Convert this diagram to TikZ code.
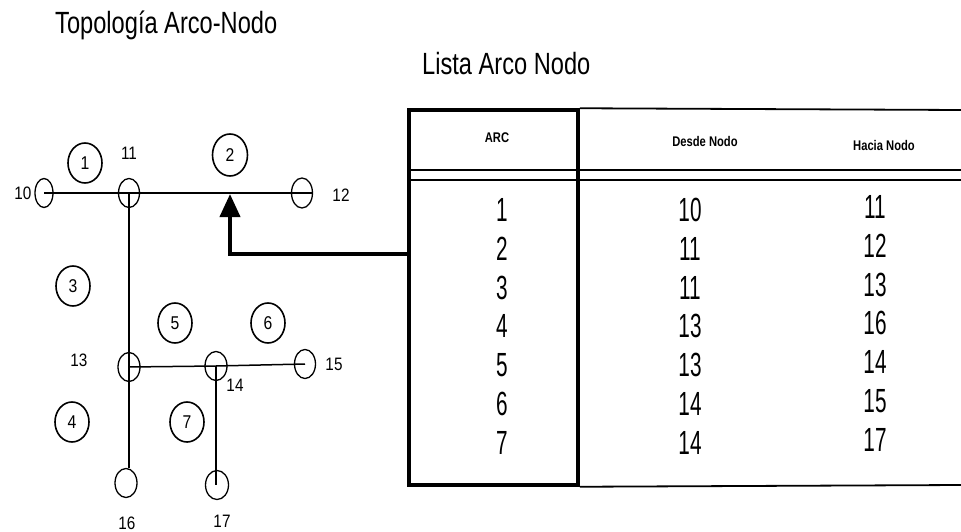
\documentclass[tikz,border=0pt]{standalone}
\usepackage{fontspec}
\setmainfont{Liberation Sans}
\newfontfamily\titlefont[FakeStretch=0.77]{Liberation Sans}
\newfontfamily\numfont[FakeStretch=0.62]{Liberation Sans}
\newfontfamily\headfont[FakeStretch=0.8]{Liberation Sans Bold}
\newfontfamily\lblfont[FakeStretch=0.85]{Liberation Sans}
\usetikzlibrary{shapes.geometric,arrows.meta}
\tikzset{
  nodeell/.style={ellipse, draw, line width=1.3pt, inner sep=0pt, minimum width=20pt, minimum height=29pt},
  arcell/.style={ellipse, draw, line width=1.6pt, inner sep=0pt, minimum width=34pt, minimum height=40pt, font=\lblfont\fontsize{18.5}{18.5}\selectfont},
  lbl/.style={inner sep=0pt, font=\lblfont\fontsize{18}{18}\selectfont},
  graphline/.style={line width=1.5pt},
  bigarrow/.style={line width=4pt, -{Triangle[length=23pt,width=20pt]}},
  tabnum/.style={inner sep=0pt, font=\numfont\fontsize{33.5}{33.5}\selectfont},
  headtxt/.style={inner sep=0pt, font=\headfont\fontsize{14}{14}\selectfont},
  titletxt/.style={inner sep=0pt, anchor=base west, font=\titlefont\fontsize{30.7}{30.7}\selectfont},
  thickbox/.style={draw, line width=3.5pt},
  thinline/.style={line width=1.8pt}
}
\begin{document}
\begin{tikzpicture}[x=1pt,y=-1pt]
\useasboundingbox (0,0) rectangle (961,532);

% titles
\node[titletxt] (title) at (55,34) {Topología Arco-Nodo};
\node[titletxt] (lista) at (422,75) {Lista Arco Nodo};

% graph nodes
\node[nodeell, minimum width=18pt] (n10) at (44,193) {};
\node[nodeell, minimum width=21pt] (n11) at (129,193) {};
\node[nodeell, minimum width=21pt, minimum height=30pt] (n12) at (302,193) {};
\node[nodeell, minimum width=22pt] (n13) at (129,367) {};
\node[nodeell, minimum width=22pt] (n14) at (216,366) {};
\node[nodeell, minimum width=21pt] (n15) at (305,364) {};
\node[nodeell, minimum width=22pt] (n16) at (126,483) {};
\node[nodeell, minimum width=23pt] (n17) at (217,485) {};

% node labels
\node[lbl] (l10) at (23,193) {10};
\node[lbl] (l11) at (129,153) {11};
\node[lbl] (l12) at (341,195) {12};
\node[lbl] (l13) at (79,360) {13};
\node[lbl] (l14) at (235,385) {14};
\node[lbl] (l15) at (334,364) {15};
\node[lbl] (l16) at (127,523) {16};
\node[lbl] (l17) at (222,521) {17};

% arc circles
\node[arcell] (c1) at (85,163) {1};
\node[arcell, minimum width=35pt, minimum height=42pt] (c2) at (230,155) {2};
\node[arcell] (c3) at (73,286) {3};
\node[arcell] (c4) at (72,422) {4};
\node[arcell] (c5) at (175,323) {5};
\node[arcell] (c6) at (268,323) {6};
\node[arcell] (c7) at (187,422) {7};

% graph lines
\draw[graphline] (n10.center) -- (n11.center) -- (n12.east);
\draw[graphline] (n11.center) -- (n13.center);
\draw[graphline] (n13.center) -- (n14.center) -- (n15.center);
\draw[graphline] (n13.center) -- (n13.center |- n16.north);
\draw[graphline] (n14.center) -- (n14.center |- n17.center);

% table
\node[thickbox, minimum width=169pt, minimum height=375pt, inner sep=0pt] (arcbox) at (493.5,297.5) {};
\draw[thinline] (arcbox.north east) -- (961,110);
\draw[thinline] (arcbox.south east) -- (961,485);
\draw[thinline] (arcbox.west |- 0,170) -- (961,170);
\draw[thinline] (arcbox.west |- 0,180) -- (961,180);

\node[headtxt] (hArc) at (497,138) {ARC};
\node[headtxt] (hDesde) at (705,141) {Desde Nodo};
\node[headtxt] (hHacia) at (884,145) {Hacia Nodo};

\foreach \i/\a/\d/\h in {0/1/10/11, 1/2/11/12, 2/3/11/13, 3/4/13/16, 4/5/13/14, 5/6/14/15, 6/7/14/17}{
  \node[tabnum] (ra\a) at (502,210+38.8*\i) {\a};
  \node[tabnum] (rd\a) at (690,210+38.8*\i) {\d};
  \node[tabnum] (rh\a) at (875,207+38.8*\i) {\h};
}

% arrow from table to arc 2
\coordinate (arrstart) at (409,254);
\coordinate (tip) at (230,194);
\draw[bigarrow] (arrstart) -| (tip);
\end{tikzpicture}
\end{document}
